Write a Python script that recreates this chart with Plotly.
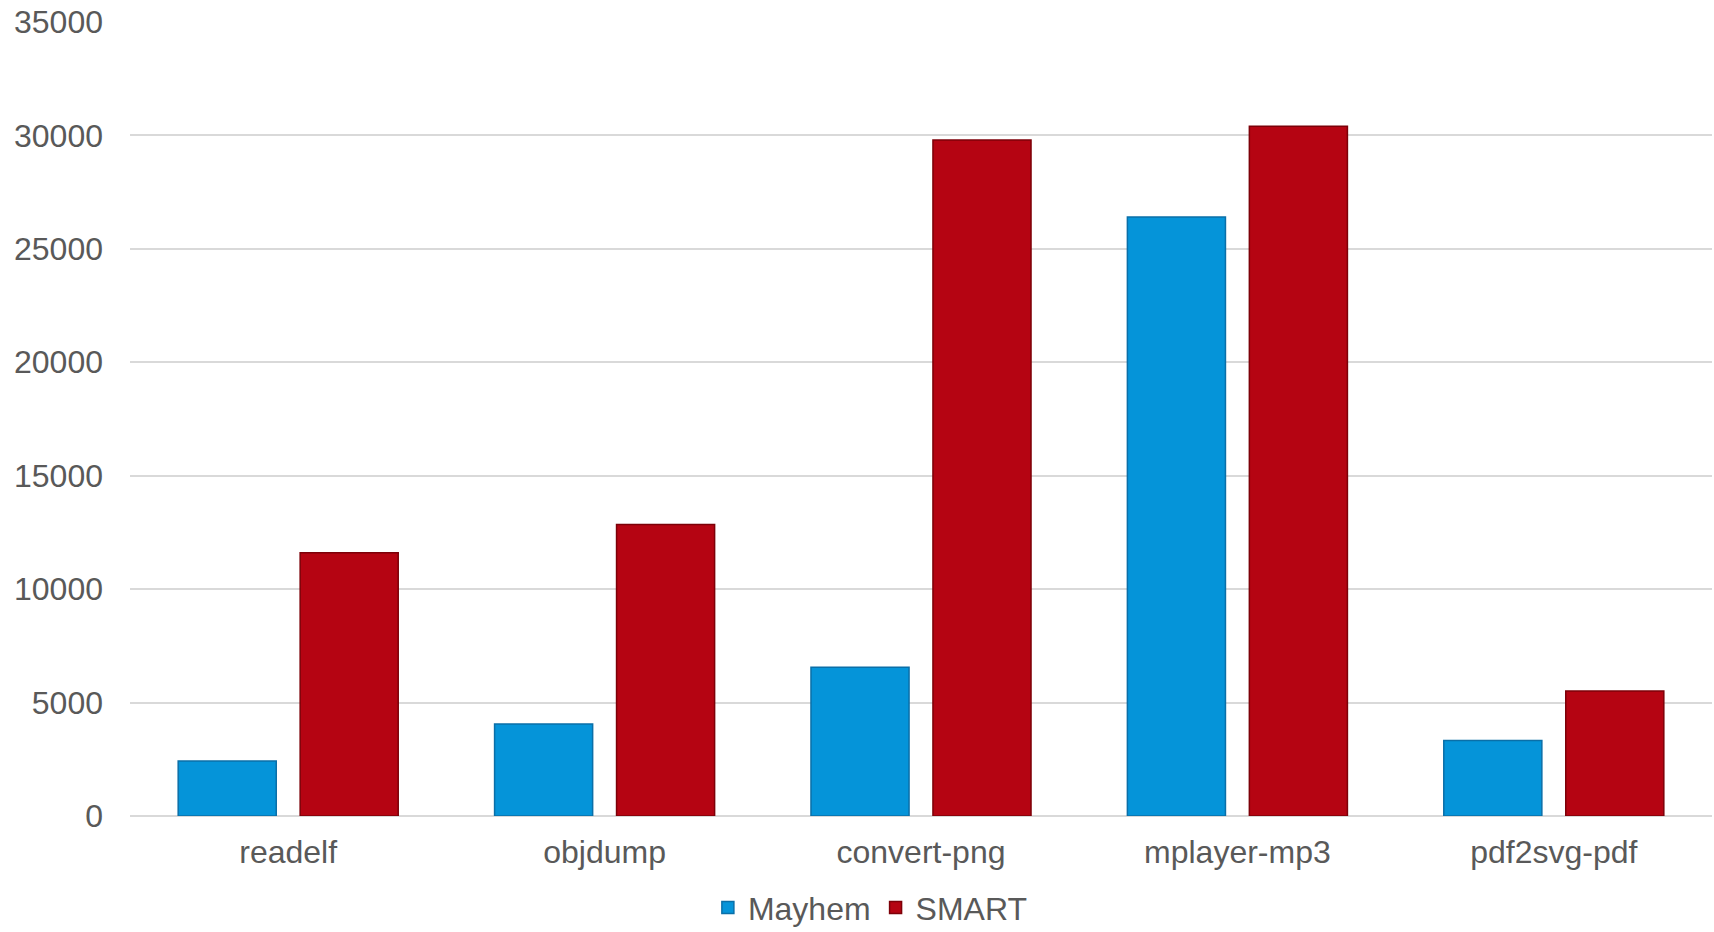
import plotly.graph_objects as go

categories = ["readelf", "objdump", "convert-png", "mplayer-mp3", "pdf2svg-pdf"]
mayhem = [2420, 4050, 6560, 26400, 3330]
smart = [11600, 12850, 29800, 30400, 5510]
y_ticks = [0, 5000, 10000, 15000, 20000, 25000, 30000, 35000]
y_tick_text = ["0", "5000", "10000", "15000", "20000", "25000", "30000", "35000"]

font_family = "Liberation Sans, Arial, sans-serif"
text_color = "#595959"
grid_color = "#d9d9d9"

fig = go.Figure()
fig.add_trace(go.Bar(
    name="Mayhem", x=categories, y=mayhem,
    marker=dict(color="#0594d9", line=dict(color="#0a6fa8", width=1.5)),
))
fig.add_trace(go.Bar(
    name="SMART", x=categories, y=smart,
    marker=dict(color="#b50412", line=dict(color="#7d0008", width=1.5)),
))

fig.update_layout(
    width=1714, height=932,
    margin=dict(l=130, r=2, t=22, b=116, autoexpand=False),
    paper_bgcolor="white", plot_bgcolor="white",
    barmode="group", bargap=0.229, bargroupgap=0.196,
    font=dict(family=font_family, size=32, color=text_color),
    showlegend=True,
    legend=dict(
        orientation="h", x=0.468, xanchor="center",
        yref="container", y=0.026, yanchor="middle",
        font=dict(size=32, color=text_color), itemwidth=30,
        traceorder="normal",
    ),
)
fig.update_xaxes(
    showgrid=False, showline=False, ticks="", automargin=False,
    tickfont=dict(size=32, color=text_color), ticklabelstandoff=14,
)
fig.update_yaxes(
    range=[0, 35000], tickvals=y_ticks, ticktext=y_tick_text,
    showgrid=True, gridcolor=grid_color, automargin=False,
    gridwidth=2, zeroline=True, zerolinecolor=grid_color, zerolinewidth=2,
    showline=False, ticks="", ticklabelstandoff=26,
    tickfont=dict(size=32, color=text_color),
)

fig.write_html("out.html")
